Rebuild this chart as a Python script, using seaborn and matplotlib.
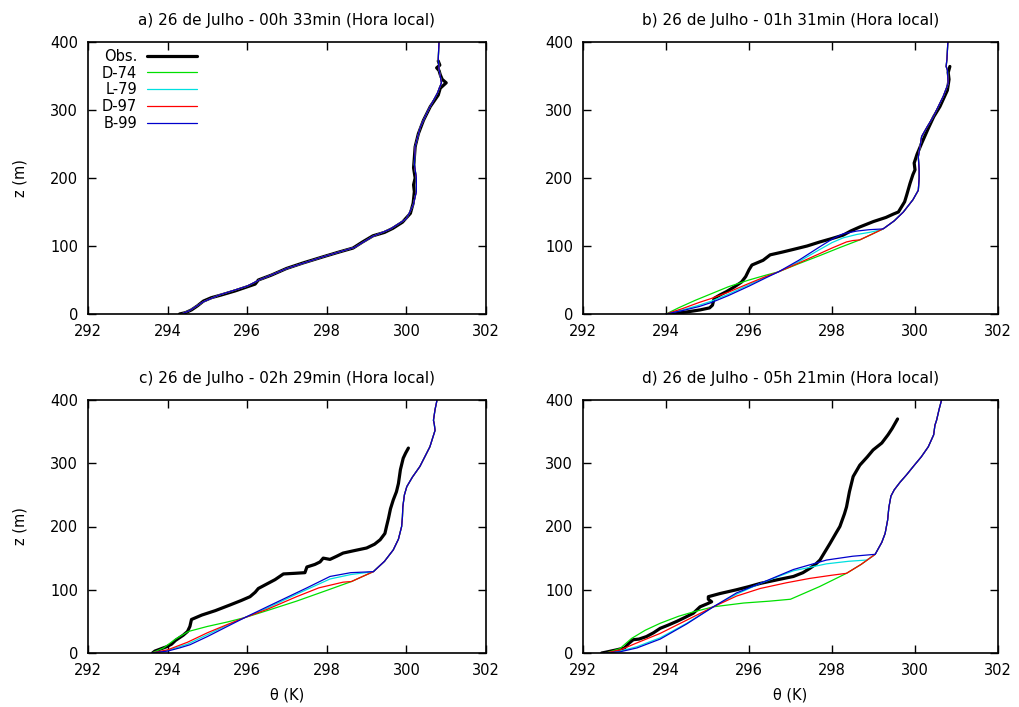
import matplotlib
matplotlib.use("Agg")
import matplotlib.pyplot as plt
import seaborn as sns

# ---------------------------------------------------------------- data
panel_titles = [
    "a) 26 de Julho - 00h 33min (Hora local)",
    "b) 26 de Julho - 01h 31min (Hora local)",
    "c) 26 de Julho - 02h 29min (Hora local)",
    "d) 26 de Julho - 05h 21min (Hora local)",
]
series_labels = ["Obs.", "D-74", "L-79", "D-97", "B-99"]
x_ticks = [292, 294, 296, 298, 300, 302]
y_ticks = [0, 100, 200, 300, 400]

# a) 00h33 -- observed potential temperature profile
obs_theta_a = [294.30, 294.45, 294.60, 294.75, 294.90, 295.10, 295.35, 295.70, 296.00, 296.20,
               296.28, 296.60, 296.99, 297.40, 297.90, 298.30, 298.66, 298.90, 299.16, 299.45,
               299.66, 299.90, 300.10, 300.17, 300.20, 300.18, 300.22, 300.18, 300.20, 300.22,
               300.30, 300.43, 300.60, 300.80, 300.85, 301.00, 300.90, 300.85, 300.82, 300.76,
               300.84, 300.80]
obs_z_a = [0, 2, 6, 12, 19, 24, 28, 34, 40, 44,
           50, 57, 67, 75, 84, 91, 97, 106, 115, 120,
           126, 135, 148, 163, 180, 190, 200, 215, 230, 246,
           265, 285, 305, 322, 332, 340, 345, 352, 358, 362,
           366, 372]
# a) model profiles (all schemes coincide at the initial time)
sbl_theta_a = [294.35, 294.55, 294.90, 295.30, 296.00, 296.30, 297.00, 297.90, 298.70, 299.15,
               299.60, 300.00]
sbl_z_a = [0, 5, 18, 28, 41, 50, 67, 84, 98, 114,
           125, 140]
upper_theta_a = [300.00, 300.17, 300.25, 300.25, 300.20, 300.22, 300.35, 300.55, 300.78, 300.88,
                 300.82, 300.80, 300.82]
upper_z_a = [140, 160, 180, 200, 220, 246, 275, 300, 325, 340,
             360, 375, 400]

# b) 01h31
obs_theta_b = [294.10, 294.50, 294.82, 295.05, 295.12, 295.16, 295.30, 295.46, 295.65, 295.82,
               295.92, 296.00, 296.07, 296.34, 296.51, 296.80, 297.07, 297.40, 297.71, 298.00,
               298.27, 298.45, 298.67, 299.00, 299.30, 299.48, 299.60, 299.75, 299.80, 299.88,
               299.95, 300.00, 299.98, 300.05, 300.16, 300.32, 300.45, 300.60, 300.78, 300.82,
               300.80, 300.84]
obs_z_b = [0, 3, 6, 9, 13, 23, 28, 33, 40, 47,
           55, 65, 72, 79, 87, 91, 95, 100, 106, 111,
           116, 122, 128, 136, 142, 147, 150, 165, 175, 192,
           205, 212, 222, 235, 251, 273, 290, 305, 329, 345,
           355, 364]
d74_theta_b = [294.00, 294.30, 294.70, 295.06, 295.50, 296.00, 296.40, 296.71, 297.20, 297.71,
               298.20, 298.67]
d74_z_b = [0, 9, 20, 29, 40, 50, 57, 62, 74, 86,
           98, 109]
l79_theta_b = [294.00, 294.40, 294.80, 295.10, 295.50, 296.00, 296.40, 296.71, 297.20, 297.71,
               298.00, 298.27, 298.60, 298.90, 299.20]
l79_z_b = [0, 6, 13, 19, 29, 43, 54, 62, 77, 95,
           105, 112, 117, 120, 124]
d97_theta_b = [294.00, 294.40, 294.80, 295.10, 295.50, 296.00, 296.40, 296.71, 297.20, 297.71,
               298.00, 298.35, 298.50, 298.67]
d97_z_b = [0, 8, 17, 23, 32, 45, 55, 62, 75, 89,
           97, 106, 108, 109]
b99_theta_b = [294.00, 294.40, 294.80, 295.10, 295.50, 296.00, 296.40, 296.71, 297.20, 297.71,
               298.00, 298.27, 298.60, 298.90, 299.20]
b99_z_b = [0, 5, 11, 17, 27, 41, 53, 62, 79, 99,
           110, 118, 122, 124, 125]
upper_theta_b = [298.67, 298.95, 299.24, 299.50, 299.72, 299.95, 300.08, 300.10, 300.10, 300.08,
                 300.16, 300.30, 300.44, 300.68, 300.80, 300.78, 300.75, 300.77, 300.79, 300.80]
upper_z_b = [109, 117, 125.5, 137, 150, 168, 182, 200, 212, 231,
             261, 276, 290, 320, 339, 359, 364, 375, 398, 400]

# c) 02h29
obs_theta_c = [293.62, 293.68, 293.85, 293.98, 294.10, 294.20, 294.39, 294.50, 294.56, 294.60,
               294.86, 295.20, 295.57, 295.85, 296.07, 296.20, 296.28, 296.49, 296.70, 296.91,
               297.20, 297.45, 297.50, 297.70, 297.83, 297.91, 298.08, 298.25, 298.41, 298.70,
               299.00, 299.20, 299.34, 299.46, 299.50, 299.55, 299.60, 299.67, 299.75, 299.80,
               299.85, 299.92, 299.98, 300.05]
obs_z_c = [0, 3, 7, 10, 14, 20, 28, 34, 42, 53,
           60, 67, 76, 83, 89, 96, 102, 109, 116, 125,
           126, 127, 136, 140, 144, 150, 148, 153, 158, 162,
           166, 172, 179, 189, 200, 213, 228, 242, 255, 268,
           290, 308, 316, 324]
d74_theta_c = [293.60, 293.90, 294.20, 294.52, 295.00, 295.50, 295.94, 296.50, 297.24, 298.00,
               298.62]
d74_z_c = [0, 8, 22, 34, 42, 49, 56, 67, 82, 99,
           113]
l79_theta_c = [293.60, 294.00, 294.50, 295.00, 295.50, 295.94, 296.50, 297.24, 298.08, 298.60,
               299.17]
l79_z_c = [0, 4, 14, 29, 44, 56, 71, 93, 117, 124,
           128.6]
d97_theta_c = [293.60, 294.00, 294.50, 295.00, 295.50, 295.94, 296.50, 297.24, 297.80, 298.41,
               298.62]
d97_z_c = [0, 5, 17, 32, 45, 56, 69, 89, 103, 112,
           113]
b99_theta_c = [293.60, 294.00, 294.30, 294.56, 295.00, 295.50, 295.94, 296.50, 297.00, 297.50,
               298.08, 298.60, 299.17]
b99_z_c = [0, 3, 8, 13, 26, 42, 56, 73, 88, 103,
           121, 127, 128.6]
upper_theta_c = [298.62, 298.90, 299.17, 299.45, 299.67, 299.80, 299.88, 299.90, 299.91, 299.95,
                 300.01, 300.15, 300.34, 300.59, 300.72, 300.70, 300.68, 300.72, 300.77]
upper_z_c = [113, 121, 128.6, 145, 163, 180, 200, 215, 231, 250,
             263, 278, 295, 326, 352, 362, 368, 385, 400]

# d) 05h21
obs_theta_d = [292.45, 292.53, 292.81, 293.00, 293.10, 293.21, 293.35, 293.53, 293.70, 293.86,
               294.05, 294.26, 294.45, 294.66, 294.82, 295.00, 295.10, 295.02, 295.02, 295.30,
               295.70, 296.00, 296.27, 296.70, 297.07, 297.30, 297.47, 297.60, 297.71, 297.95,
               298.10, 298.19, 298.30, 298.35, 298.42, 298.51, 298.67, 298.85, 298.99, 299.20,
               299.35, 299.45, 299.58]
obs_z_d = [0, 1, 5, 8, 15, 21, 22, 26, 32, 39,
           44, 50, 56, 63, 73, 78, 81, 85, 89, 94,
           100, 105, 110, 116, 121, 127, 134, 140, 147, 173,
           190, 200, 220, 231, 255, 279, 297, 310, 321, 332,
           345, 355, 370]
d74_theta_d = [292.55, 292.89, 293.17, 293.50, 293.86, 294.30, 294.66, 295.14, 295.87, 296.50,
               297.00, 297.70, 298.35]
d74_z_d = [0, 7, 23, 36, 47, 58, 65, 73, 79, 82,
           85, 105, 126]
l79_theta_d = [292.55, 292.90, 293.30, 293.86, 294.50, 295.14, 295.70, 296.27, 297.07, 297.87,
               298.40, 298.84]
l79_z_d = [0, 3, 10, 24, 47, 73, 93, 110, 130, 141,
           145, 147]
d97_theta_d = [292.55, 292.90, 293.30, 293.86, 294.50, 295.14, 295.70, 296.27, 296.90, 297.47,
               298.00, 298.35]
d97_z_d = [0, 5, 16, 31, 52, 73, 90, 102, 111, 118,
           123, 126]
b99_theta_d = [292.55, 292.90, 293.30, 293.86, 294.50, 295.14, 295.70, 296.27, 297.07, 297.87,
               298.50, 299.04]
b99_z_d = [0, 2, 8, 22, 46, 73, 95, 110, 132, 147,
           153, 156]
upper_theta_d = [298.35, 298.70, 299.04, 299.20, 299.28, 299.34, 299.37, 299.42, 299.50, 299.64,
                 299.80, 299.96, 300.15, 300.32, 300.45, 300.48, 300.52, 300.58, 300.64]
upper_z_d = [126, 140, 156, 175, 189, 210, 230, 248, 258, 270,
             282, 295, 310, 326, 345, 360, 368, 385, 400]

# ---------------------------------------------------------------- assembly
panels = [
    dict(title=panel_titles[0], obs=(obs_theta_a, obs_z_a),
         models=[(sbl_theta_a, sbl_z_a)] * 4, upper=(upper_theta_a, upper_z_a)),
    dict(title=panel_titles[1], obs=(obs_theta_b, obs_z_b),
         models=[(d74_theta_b, d74_z_b), (l79_theta_b, l79_z_b),
                 (d97_theta_b, d97_z_b), (b99_theta_b, b99_z_b)],
         upper=(upper_theta_b, upper_z_b)),
    dict(title=panel_titles[2], obs=(obs_theta_c, obs_z_c),
         models=[(d74_theta_c, d74_z_c), (l79_theta_c, l79_z_c),
                 (d97_theta_c, d97_z_c), (b99_theta_c, b99_z_c)],
         upper=(upper_theta_c, upper_z_c)),
    dict(title=panel_titles[3], obs=(obs_theta_d, obs_z_d),
         models=[(d74_theta_d, d74_z_d), (l79_theta_d, l79_z_d),
                 (d97_theta_d, d97_z_d), (b99_theta_d, b99_z_d)],
         upper=(upper_theta_d, upper_z_d)),
]


def full_profile(sbl, upper):
    """Stable-layer part of a scheme followed by the residual profile above it."""
    st, sz = sbl
    ut, uz = upper
    top = sz[-1]
    theta = list(st) + [t for t, z in zip(ut, uz) if z > top]
    height = list(sz) + [z for z in uz if z > top]
    return theta, height


# ---------------------------------------------------------------- style
sns.set_theme(style="ticks")
plt.rcParams["font.family"] = ["DejaVu Sans"]
plt.rcParams["text.color"] = "black"
plt.rcParams["axes.labelcolor"] = "black"
plt.rcParams["axes.titlecolor"] = "black"

model_colors = ["#00e000", "#00e0e0", "#ff0000", "#0000cc"]

fig = plt.figure(figsize=(10.2, 7.07), dpi=100)
boxes = [
    [88 / 1020, (707 - 314) / 707, 398 / 1020, 272 / 707],
    [583 / 1020, (707 - 314) / 707, 415 / 1020, 272 / 707],
    [88 / 1020, (707 - 653) / 707, 398 / 1020, 253 / 707],
    [583 / 1020, (707 - 653) / 707, 415 / 1020, 253 / 707],
]

for i, (box, p) in enumerate(zip(boxes, panels)):
    ax = fig.add_axes(box)
    ot, oz = p["obs"]
    sns.lineplot(x=ot, y=oz, sort=False, estimator=None, color="black",
                 linewidth=2.3, ax=ax, label=series_labels[0], legend=False)
    for j, sbl in enumerate(p["models"]):
        mt, mz = full_profile(sbl, p["upper"])
        sns.lineplot(x=mt, y=mz, sort=False, estimator=None, color=model_colors[j],
                     linewidth=0.9, ax=ax, label=series_labels[j + 1], legend=False)

    ax.set_xlim(292, 302)
    ax.set_ylim(0, 400)
    ax.set_xticks(x_ticks)
    ax.set_yticks(y_ticks)
    ax.tick_params(direction="in", length=6, width=1.0, top=True, right=True,
                   labelsize=10.5, pad=7, colors="black")
    for s in ax.spines.values():
        s.set_linewidth(1.2)
        s.set_color("black")
    ax.set_title(p["title"], fontsize=11, pad=12, color="black")
    ax.set_xlabel("θ (K)" if i >= 2 else "", fontsize=10.5, labelpad=7)
    ax.set_ylabel("z (m)" if i % 2 == 0 else "", fontsize=10.5, labelpad=16)

    if i == 0:
        ax.legend(loc="upper left", bbox_to_anchor=(0.035, 0.975), frameon=False,
                  markerfirst=False, fontsize=10.5, handlelength=3.4, handletextpad=0.7,
                  labelspacing=0.12, borderpad=0, borderaxespad=0)

fig.savefig("out.png", dpi=100)
